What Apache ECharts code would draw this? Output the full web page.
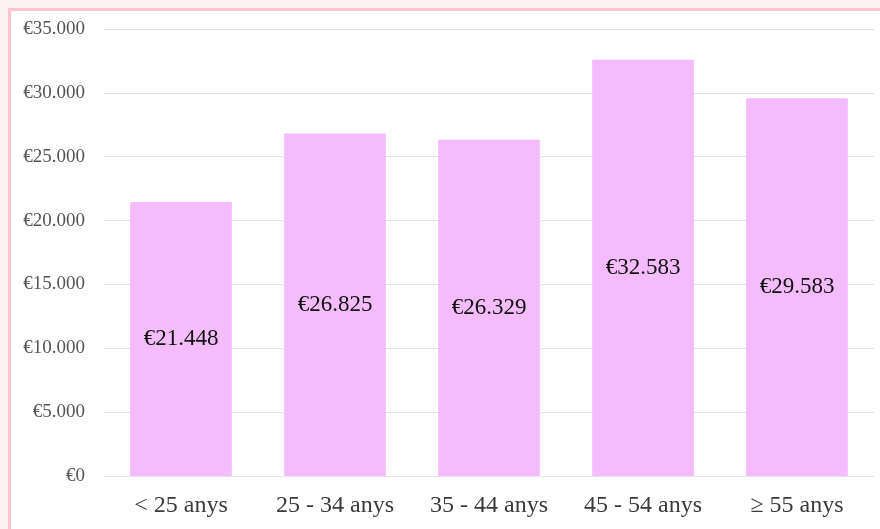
<!DOCTYPE html>
<html>
<head>
<meta charset="utf-8">
<script src="https://cdn.jsdelivr.net/npm/echarts@6/dist/echarts.min.js"></script>
<style>
  html, body { margin: 0; padding: 0; background: #fdf1f4; }
  #frame { position: absolute; left: 8px; top: 8px; width: 900px; height: 560px;
           background: #fff; border-left: 3px solid #ffc3d0; border-top: 3px solid #ffc3d0; }
  #chart1 { position: absolute; left: 0; top: 0; width: 880px; height: 529px; }
</style>
</head>
<body>
<div id="frame"></div>
<div id="chart1"></div>
<script>
var categories = ['< 25 anys', '25 - 34 anys', '35 - 44 anys', '45 - 54 anys', '≥ 55 anys'];
var salaries = [21448, 26825, 26329, 32583, 29583];

var euro = function (v) {// format euro amounts with dot as thousands separator
    return '€' + String(v).replace(/\B(?=(\d{3})+(?!\d))/g, '.');
};

var myChart = echarts.init(document.getElementById('chart1'));

var option = {
    animation: false,
    grid: { left: 104, right: 6, top: 29, bottom: 53 },
    xAxis: {
        type: 'category',
        data: categories,
        axisLine: { show: false },
        axisTick: { show: false },
        axisLabel: {
            interval: 0,
            hideOverlap: false,
            margin: 18,
            fontFamily: 'Liberation Serif',
            fontSize: 24,
            color: '#3a3a3a'
        }
    },
    yAxis: {
        type: 'value',
        min: 0,
        max: 35000,
        interval: 5000,
        axisLine: { show: false },
        axisTick: { show: false },
        splitLine: { lineStyle: { color: '#e2e2e2', width: 1 } },
        axisLabel: {
            margin: 19,
            fontFamily: 'Liberation Serif',
            fontSize: 19,
            color: '#555',
            formatter: euro
        }
    },
    series: [{
        type: 'bar',
        data: salaries,
        barWidth: '66%',
        itemStyle: { color: '#f4bbfd' },
        label: {
            show: true,
            position: 'inside',
            fontFamily: 'Liberation Serif',
            fontSize: 23,
            color: '#111',
            formatter: function (p) { return euro(p.value); }
        }
    }]
};

myChart.setOption(option, true);
</script>
</body>
</html>
